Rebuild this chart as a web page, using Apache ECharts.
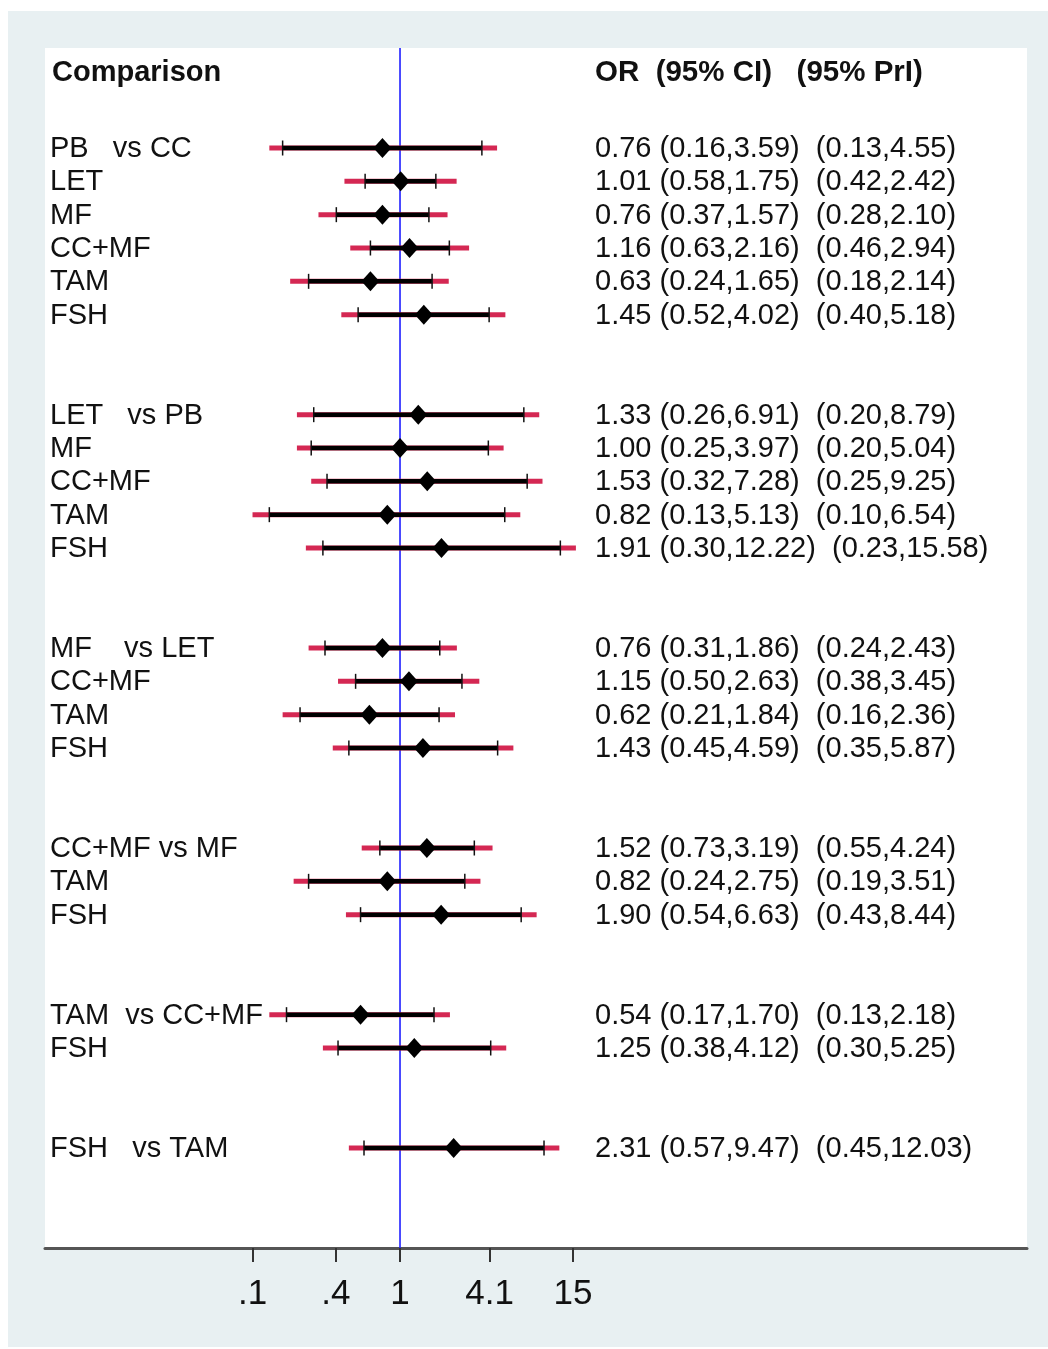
<!DOCTYPE html>
<html>
<head>
<meta charset="utf-8">
<script src="https://cdn.jsdelivr.net/npm/echarts@6/dist/echarts.min.js"></script>
<style>
  html, body { margin: 0; padding: 0; background: #ffffff; }
  #chart { width: 1048px; height: 1349px; }
</style>
</head>
<body>
<div id="chart"></div>
<script>
// Network meta-analysis: odds ratios with 95% confidence and prediction intervals
const comparisons = [
  'PB   vs CC', 'LET', 'MF', 'CC+MF', 'TAM', 'FSH',
  'LET   vs PB', 'MF', 'CC+MF', 'TAM', 'FSH',
  'MF    vs LET', 'CC+MF', 'TAM', 'FSH',
  'CC+MF vs MF', 'TAM', 'FSH',
  'TAM  vs CC+MF', 'FSH',
  'FSH   vs TAM'
];
// row slot of each comparison (blank slots separate the groups)
const rowIndex = [0, 1, 2, 3, 4, 5, 8, 9, 10, 11, 12, 15, 16, 17, 18, 21, 22, 23, 26, 27, 30];
const oddsRatio = [0.76, 1.01, 0.76, 1.16, 0.63, 1.45, 1.33, 1.00, 1.53, 0.82, 1.91, 0.76, 1.15, 0.62, 1.43, 1.52, 0.82, 1.90, 0.54, 1.25, 2.31];
const ciLow  = [0.16, 0.58, 0.37, 0.63, 0.24, 0.52, 0.26, 0.25, 0.32, 0.13, 0.30, 0.31, 0.50, 0.21, 0.45, 0.73, 0.24, 0.54, 0.17, 0.38, 0.57];
const ciHigh = [3.59, 1.75, 1.57, 2.16, 1.65, 4.02, 6.91, 3.97, 7.28, 5.13, 12.22, 1.86, 2.63, 1.84, 4.59, 3.19, 2.75, 6.63, 1.70, 4.12, 9.47];
const priLow  = [0.13, 0.42, 0.28, 0.46, 0.18, 0.40, 0.20, 0.20, 0.25, 0.10, 0.23, 0.24, 0.38, 0.16, 0.35, 0.55, 0.19, 0.43, 0.13, 0.30, 0.45];
const priHigh = [4.55, 2.42, 2.10, 2.94, 2.14, 5.18, 8.79, 5.04, 9.25, 6.54, 15.58, 2.43, 3.45, 2.36, 5.87, 4.24, 3.51, 8.44, 2.18, 5.25, 12.03];

// x-axis ticks (odds-ratio scale) and their printed labels
const tickValues = [0.1003, 0.3679, 1, 4.055, 14.88];
const tickLabels = ['.1', '.4', '1', '4.1', '15'];

const lg = Math.log10;
const tickLogs = tickValues.map(lg);
const FONT = '"Liberation Sans", Arial, Helvetica, sans-serif';

const fmt = v => v.toFixed(2);
const rows = comparisons.map((name, i) => ({
  row: rowIndex[i],
  name: name,
  text: fmt(oddsRatio[i]) + ' (' + fmt(ciLow[i]) + ',' + fmt(ciHigh[i]) + ')  (' + fmt(priLow[i]) + ',' + fmt(priHigh[i]) + ')',
  value: [rowIndex[i], lg(oddsRatio[i]), lg(ciLow[i]), lg(ciHigh[i]), lg(priLow[i]), lg(priHigh[i])]
}));

const chart = echarts.init(document.getElementById('chart'), null, { renderer: 'canvas' });

function renderInterval(params, api) {
  const row = api.value(0);
  const orP = api.coord([api.value(1), row]);
  const ciL = api.coord([api.value(2), row]);
  const ciH = api.coord([api.value(3), row]);
  const prL = api.coord([api.value(4), row]);
  const prH = api.coord([api.value(5), row]);
  const y = orP[1];
  const cap = 7.5, dw = 9, dh = 10;
  return {
    type: 'group',
    children: [
      { type: 'line', shape: { x1: prL[0], y1: y, x2: prH[0], y2: y },
        style: { stroke: '#d21c4a', lineWidth: 5, opacity: 0.95 } },
      { type: 'line', shape: { x1: ciL[0], y1: y, x2: ciH[0], y2: y },
        style: { stroke: '#000000', lineWidth: 4.5 } },
      { type: 'line', shape: { x1: ciL[0], y1: y - cap, x2: ciL[0], y2: y + cap },
        style: { stroke: '#111111', lineWidth: 1.5 } },
      { type: 'line', shape: { x1: ciH[0], y1: y - cap, x2: ciH[0], y2: y + cap },
        style: { stroke: '#111111', lineWidth: 1.5 } },
      { type: 'polygon', shape: { points: [[orP[0], y - dh], [orP[0] + dw, y], [orP[0], y + dh], [orP[0] - dw, y]] },
        style: { fill: '#000000' } }
    ]
  };
}

function renderLabels(params, api) {
  const item = rows[params.dataIndex];
  const y = api.coord([0, api.value(0)])[1] + 1;
  return {
    type: 'group',
    children: [
      { type: 'text', x: 50, y: y, style: { text: item.name, font: '29px ' + FONT, fill: '#111111', verticalAlign: 'middle', align: 'left' } },
      { type: 'text', x: 595, y: y, style: { text: item.text, font: '29px ' + FONT, fill: '#111111', verticalAlign: 'middle', align: 'left' } }
    ]
  };
}

chart.setOption({
  animation: false,
  backgroundColor: '#ffffff',
  graphic: [
    { type: 'rect', z: -10, shape: { x: 8, y: 11, width: 1040, height: 1336 }, style: { fill: '#e8f0f2' } },
    { type: 'text', z: 10, x: 52, y: 73, style: { text: 'Comparison', font: 'bold 29px ' + FONT, fill: '#111111', verticalAlign: 'middle' } },
    { type: 'text', z: 10, x: 595, y: 73, style: { text: 'OR  (95% CI)   (95% PrI)', font: 'bold 29.5px ' + FONT, fill: '#111111', verticalAlign: 'middle' } }
  ],
  grid: {
    left: 45, top: 48, width: 982, height: 1200,
    show: true, backgroundColor: '#ffffff', borderWidth: 0
  },
  xAxis: {
    type: 'value',
    min: -2.407, max: 4.251,
    splitLine: { show: false },
    axisLine: { show: true, onZero: false, lineStyle: { color: '#555555', width: 3 } },
    axisTick: { show: true, customValues: tickLogs, length: 14, lineStyle: { color: '#333333', width: 2 } },
    axisLabel: {
      show: true, customValues: tickLogs, margin: 29,
      fontSize: 35, fontFamily: FONT, color: '#111111',
      formatter: v => {
        const i = tickLogs.findIndex(t => Math.abs(t - v) < 1e-6);
        return i >= 0 ? tickLabels[i] : '';
      }
    }
  },
  yAxis: {
    type: 'value', inverse: true, min: -3, max: 33, show: false
  },
  series: [
    {
      type: 'line', name: 'null', silent: true, symbol: 'none',
      data: [[0, -3], [0, 33]],
      lineStyle: { color: '#1f1fff', width: 1.6 }, z: 1
    },
    {
      type: 'custom', name: 'intervals', renderItem: renderInterval,
      data: rows.map(r => r.value), z: 3
    },
    {
      type: 'custom', name: 'labels', renderItem: renderLabels,
      data: rows.map(r => [r.row]), z: 4, silent: true
    }
  ]
});
</script>
</body>
</html>
